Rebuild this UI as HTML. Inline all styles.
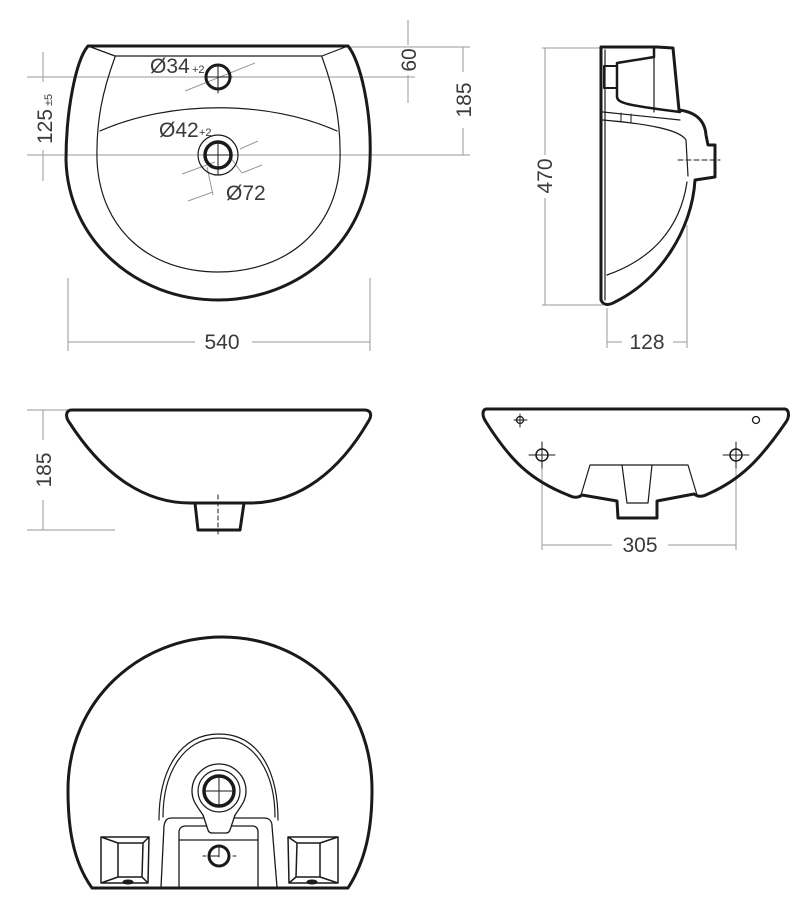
<!DOCTYPE html>
<html><head><meta charset="utf-8"><style>
html,body{margin:0;padding:0;background:#fff;}
svg{display:block;}
text{font-family:"Liberation Sans",sans-serif;fill:#3a3a3a;}
</style></head><body>
<svg width="806" height="910" viewBox="0 0 806 910" xmlns="http://www.w3.org/2000/svg">
<g fill="none" stroke="#999" stroke-width="1">
<line x1="27" y1="77" x2="415" y2="77"/>
<line x1="27" y1="155" x2="470" y2="155"/>
<line x1="348" y1="47" x2="470" y2="47"/>
<line x1="43" y1="52" x2="43" y2="82"/><line x1="43" y1="150" x2="43" y2="181"/>
<line x1="408" y1="20" x2="408" y2="45"/><line x1="408" y1="75" x2="408" y2="103"/>
<line x1="463" y1="47" x2="463" y2="72"/><line x1="463" y1="128" x2="463" y2="155"/>
<line x1="68" y1="278" x2="68" y2="351"/><line x1="370" y1="278" x2="370" y2="351"/>
<line x1="68" y1="342" x2="195" y2="342"/><line x1="252" y1="342" x2="370" y2="342"/>
<line x1="185" y1="91" x2="255" y2="63"/>
<line x1="182" y1="174" x2="215" y2="162"/><line x1="240" y1="149" x2="258" y2="141"/>
<line x1="207" y1="167" x2="213" y2="195"/><line x1="188" y1="201" x2="213" y2="192"/>
<line x1="230" y1="157" x2="242" y2="173"/><line x1="242" y1="173" x2="262" y2="165"/>
<line x1="542" y1="48" x2="600" y2="48"/><line x1="542" y1="305" x2="603" y2="305"/>
<line x1="545" y1="48" x2="545" y2="155"/><line x1="545" y1="198" x2="545" y2="305"/>
<line x1="607" y1="308" x2="607" y2="348"/><line x1="687" y1="225" x2="687" y2="348"/>
<line x1="607" y1="342" x2="622" y2="342"/><line x1="673" y1="342" x2="687" y2="342"/>
<line x1="27" y1="410" x2="68" y2="410"/><line x1="27" y1="530" x2="115" y2="530"/>
<line x1="43" y1="410" x2="43" y2="440"/><line x1="43" y1="500" x2="43" y2="530"/>
<line x1="542" y1="465" x2="542" y2="550"/><line x1="736" y1="465" x2="736" y2="550"/>
<line x1="542" y1="545" x2="612" y2="545"/><line x1="668" y1="545" x2="736" y2="545"/>
</g>
<g font-size="21">
<text x="222" y="349" text-anchor="middle">540</text>
<text x="647" y="349" text-anchor="middle">128</text>
<text x="640" y="552" text-anchor="middle">305</text>
<text transform="translate(552,176) rotate(-90)" text-anchor="middle">470</text>
<text transform="translate(51,470) rotate(-90)" text-anchor="middle">185</text>
<text transform="translate(471,100) rotate(-90)" text-anchor="middle">185</text>
<text transform="translate(416,60) rotate(-90)" text-anchor="middle">60</text>
<text transform="translate(52,144) rotate(-90)">125</text>
<text transform="translate(52,106) rotate(-90)" font-size="11">±5</text>
<text x="150" y="73">Ø34</text><text x="192" y="73" font-size="11">+2</text>
<text x="159" y="137">Ø42</text><text x="199" y="136" font-size="11">+2</text>
<text x="226" y="200">Ø72</text>
</g>
<g fill="none" stroke="#1a1a1a" stroke-linejoin="round" stroke-linecap="round">
<path d="M88,46 L348,46 C360,60 372,110 370,160 C368,240 300,300 218,300 C136,300 68,240 66,160 C66,110 76,60 88,46 Z" stroke-width="3"/>
<path d="M88,46 L115,56 L322,56 L348,46" stroke-width="1.2"/>
<path d="M115,57 C103,90 96,120 97,160 C100,230 150,272 218,272 C286,272 338,230 340,160 C341,120 334,90 322,57" stroke-width="1.2"/>
<path d="M100,131 C170,100 268,100 337,131" stroke-width="1.2"/>
<circle cx="218" cy="77" r="12" stroke-width="3"/>
<circle cx="218" cy="155" r="13" stroke-width="3.5"/>
<circle cx="218" cy="155" r="20" stroke-width="1.2"/>
<g stroke-width="1"><line x1="218" y1="65" x2="218" y2="93"/><line x1="205" y1="77" x2="232" y2="77"/>
<line x1="218" y1="143" x2="218" y2="175"/><line x1="205" y1="155" x2="231" y2="155"/></g>
<path d="M601,47 L657,47 L673,48 L679,110 C695,112 705,120 706,135 L708,145 L715,145 L715,177 L695,180 C692,230 660,280 615,302 C608,306 603,305 601,300 Z" stroke-width="3"/>
<line x1="605" y1="50" x2="605" y2="300" stroke-width="1.2"/>
<path d="M617,63 L654,57 L654,47 M617,63 L617,97 C618,103 625,105 680,112" stroke-width="2.5"/>
<line x1="654" y1="57" x2="654" y2="112" stroke-width="1.2"/>
<rect x="604" y="66" width="13" height="22" stroke-width="2"/>
<path d="M603,112 L680,120 M603,120 C650,124 680,130 686,140 L688,176" stroke-width="1.2"/>
<line x1="621" y1="113" x2="621" y2="122" stroke-width="1"/><line x1="631" y1="114" x2="631" y2="123" stroke-width="1"/>
<path d="M687,182 C680,230 650,260 607,275" stroke-width="1.2"/>
<line x1="678" y1="160" x2="720" y2="160" stroke-width="1" stroke-dasharray="5,3"/>
<path d="M72,410 L364,410 C372,410 372,416 368,422 C340,470 300,503 250,503 L190,503 C140,503 100,470 69,422 C65,416 66,410 72,410 Z" stroke-width="3"/>
<path d="M195,503 L198,530 L240,530 L244,503" stroke-width="3"/>
<line x1="218" y1="495" x2="218" y2="536" stroke-width="1" stroke-dasharray="4,3"/>
<path d="M486,409 L785,409 C790,410 789,418 786,422 C760,460 740,480 708,494 C700,498 697,496 694,494 L657,501 L657,518 L618,518 L617,501 L582,495 C578,498 574,498 568,495 C530,480 510,460 486,422 C482,416 482,410 486,409 Z" stroke-width="3"/>
<path d="M581,495 L590,465 L688,465 L697,495" stroke-width="1.2"/>
<path d="M622,465 L627,503 L648,503 L652,465" stroke-width="1.2"/>
<circle cx="542" cy="455" r="6" stroke-width="1.5"/><circle cx="736" cy="455" r="6" stroke-width="1.5"/>
<g stroke-width="1"><line x1="542" y1="442" x2="542" y2="468"/><line x1="529" y1="455" x2="555" y2="455"/>
<line x1="736" y1="442" x2="736" y2="468"/><line x1="723" y1="455" x2="749" y2="455"/>
<line x1="520" y1="414" x2="520" y2="427"/><line x1="514" y1="420" x2="527" y2="420"/></g>
<circle cx="520" cy="420" r="3.5" stroke-width="1.3"/>
<circle cx="756" cy="420" r="3.5" stroke-width="1.3"/>
<path d="M92,888 C72,860 68,825 68,790 C68,700 140,637 222,637 C305,637 372,700 372,790 C372,828 366,860 348,888 Z" stroke-width="3"/>
<path d="M159,820 C159,770 180,734 219,734 C258,734 278,770 278,820" stroke-width="1.2"/>
<path d="M163,817 C163,772 184,738 219,738 C254,738 275,772 275,817" stroke-width="1.2"/>
<path d="M161,887 L164,826 C165,820 167,818 172,818 L203,818 M234,818 L264,818 C270,818 272,822 272,826 L277,887" stroke-width="1.3"/>
<path d="M179,887 L179,832 C179,828 182,826 186,826 L252,826 C256,826 258,828 258,832 L258,887 M179,840 L258,840" stroke-width="1.3"/>
<path d="M203,815 C196,805 192,800 192,791 A27,27 0 1 1 246,791 C246,800 242,805 235,815 L230,830 C229,833 227,833 225,833 L213,833 C211,833 209,833 208,830 Z" fill="#fff" stroke-width="1.3"/>
<circle cx="219" cy="791" r="21" stroke-width="1.2"/>
<circle cx="219" cy="791" r="15" stroke-width="3.5"/>
<circle cx="219" cy="856" r="10" stroke-width="3"/>
<g stroke-width="1"><line x1="219" y1="778" x2="219" y2="804"/><line x1="206" y1="791" x2="232" y2="791"/>
<line x1="219" y1="845" x2="219" y2="857"/><line x1="208" y1="856" x2="219" y2="856"/>
<line x1="203" y1="856" x2="206" y2="856"/><line x1="233" y1="856" x2="236" y2="856"/></g>
<path d="M101,837 L149,837 L148,883 L101,883 Z M101,837 L118,843 L143,843 L149,837 M118,843 L118,877 L142,877 L143,843 M101,883 L118,877 M148,883 L142,877" stroke-width="1.5"/>
<path d="M288,837 L338,837 L338,883 L289,883 Z M288,837 L297,843 L320,843 L338,837 M297,843 L296,877 L320,877 L320,843 M289,883 L296,877 M338,883 L320,877" stroke-width="1.5"/>
<ellipse cx="128" cy="882" rx="5" ry="2" fill="#1a1a1a"/>
<ellipse cx="312" cy="882" rx="5" ry="2" fill="#1a1a1a"/>
</g>
</svg>
</body></html>
